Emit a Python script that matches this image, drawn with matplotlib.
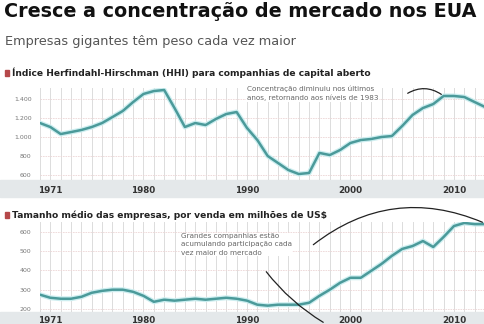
import matplotlib.pyplot as plt
from matplotlib.patches import Rectangle
from matplotlib.ticker import FuncFormatter

years = list(range(1970, 2014))

# Índice Herfindahl-Hirschman (HHI)
hhi = [1147, 1105, 1031, 1052, 1074, 1105, 1147, 1210, 1274, 1368,
       1453, 1484, 1495, 1305, 1105, 1147, 1126, 1190, 1242, 1263,
       1095, 968, 800, 726, 652, 610, 621, 832, 810, 863,
       937, 968, 979, 1000, 1010, 1116, 1232, 1305, 1347, 1432,
       1432, 1421, 1368, 1316]

# Tamanho médio das empresas (milhões de US$)
tamanho = [274, 258, 253, 253, 263, 284, 294, 300, 300, 289,
           268, 237, 248, 243, 248, 253, 248, 253, 258, 253,
           243, 222, 217, 222, 222, 222, 232, 268, 300, 336,
           362, 362, 398, 434, 476, 512, 527, 553, 522, 574,
           631, 647, 641, 641]

hhi_ticks = [600, 800, 1000, 1200, 1400]
tam_ticks = [200, 300, 400, 500, 600]
x_ticks = [1971, 1980, 1990, 2000, 2010]

W, H = 485, 324
LINE = '#4b9a9a'
GLOW = '#cdeef0'
RED = '#b5484a'


def fy(py):
    return 1 - py / H


def fmt_milhar(v, pos):
    return f'{int(v):,}'.replace(',', '.')


fig = plt.figure(figsize=(W / 100, H / 100), dpi=100)
fig.patch.set_facecolor('white')

fig.text(4 / W, fy(2), 'Cresce a concentração de mercado nos EUA',
         fontsize=13.8, fontweight='heavy', va='top', ha='left', color='#111111')
fig.text(5 / W, fy(35), 'Empresas gigantes têm peso cada vez maior',
         fontsize=9.3, va='top', ha='left', color='#555555')

# faixas cinzas dos anos
for top, bot in [(180, 197), (312, 324)]:
    fig.patches.append(Rectangle((0, fy(bot)), 1, (bot - top) / H,
                                 transform=fig.transFigure, color='#e4e8ea', zorder=-5))


def painel(rect, valores, ticks, ylim, titulo, ty, xpad):
    ax = fig.add_axes(rect)
    ax.set_zorder(2)
    ax.set_facecolor('none')
    ax.plot(years, valores, color=GLOW, lw=3.6, solid_capstyle='round', zorder=2)
    ax.plot(years, valores, color=LINE, lw=1.8, solid_capstyle='round', zorder=3)
    ax.set_xlim(1970.3, 2013)
    ax.set_ylim(*ylim)
    ax.set_yticks(ticks)
    ax.yaxis.set_major_formatter(FuncFormatter(fmt_milhar))
    ax.set_xticks(x_ticks)
    ax.set_xticks(years, minor=True)
    ax.tick_params(axis='y', length=0, labelsize=4.5, labelcolor='#777777', pad=6)
    ax.tick_params(axis='x', which='both', length=0, labelsize=6.3, pad=xpad)
    for lb in ax.get_xticklabels():
        lb.set_fontweight('bold')
        lb.set_color('#333333')
    ax.grid(axis='x', which='both', color='#dcdcdc', lw=0.7)
    ax.grid(axis='y', color='#ecd6d6', lw=0.6, ls=(0, (2, 1)))
    for s in ax.spines.values():
        s.set_visible(False)
    fig.patches.append(Rectangle((5 / W, fy(ty + 3)), 4 / W, 6 / H,
                                 transform=fig.transFigure, color=RED))
    fig.text(12 / W, fy(ty), titulo, fontsize=6.6, fontweight='bold',
             va='center', ha='left', color='#222222')
    return ax


ax1 = painel([40 / W, fy(180), 1 - 40 / W, 92 / H], hhi, hhi_ticks, (547, 1516),
             'Índice Herfindahl-Hirschman (HHI) para companhias de capital aberto', 73, 4)
ax2 = painel([40 / W, fy(312), 1 - 40 / W, 90 / H], tamanho, tam_ticks, (184, 652),
             'Tamanho médio das empresas, por venda em milhões de US$', 215, 3)

ax1.text(1990, 1463, 'Concentração diminuiu nos últimos\nanos, retornando aos níveis de 1983',
         fontsize=5.2, color='#666666', va='center', ha='left', linespacing=1.5,
         bbox=dict(facecolor='white', edgecolor='none', pad=0.5), zorder=4)
ax1.annotate('', xy=(2009, 1432), xytext=(2005.3, 1445),
             arrowprops=dict(arrowstyle='-', color='#222222', lw=0.9,
                             connectionstyle='arc3,rad=-0.35'), zorder=5)

ax2.text(1983.6, 535, 'Grandes companhias estão\nacumulando participação cada\nvez maior do mercado',
         fontsize=5.2, color='#666666', va='center', ha='left', linespacing=1.45,
         bbox=dict(facecolor='white', edgecolor='none', pad=0.5), zorder=4)
ax2.annotate('', xy=(2013, 645), xytext=(1996.2, 525),
             arrowprops=dict(arrowstyle='-', color='#222222', lw=0.9,
                             connectionstyle='arc3,rad=-0.3'), zorder=5)
ax2.annotate('', xy=(1997.6, 123), xytext=(1991.7, 405),
             arrowprops=dict(arrowstyle='-', color='#222222', lw=0.9,
                             connectionstyle='arc3,rad=0.1'),
             annotation_clip=False, zorder=5)

fig.savefig('out.png', dpi=100)
